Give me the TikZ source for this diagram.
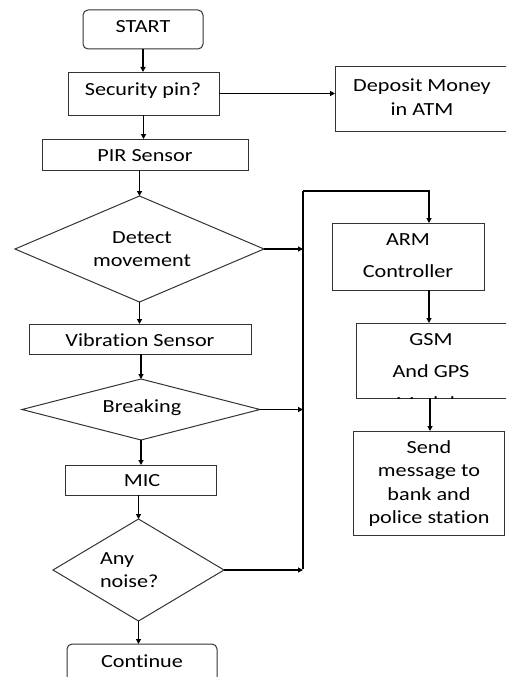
\documentclass[tikz,border=0pt]{standalone}
\usepackage{fontspec}
\setmainfont{Carlito}[FakeStretch=1.2,RawFeature={-liga;-clig;-dlig;-calt;-rlig}]
\usetikzlibrary{shapes.geometric,arrows.meta}
\begin{document}
\begin{tikzpicture}[x=1pt,y=-1pt,
  every node/.style={inner sep=0pt,outer sep=0pt},
  box/.style={draw=black!80,line width=1pt,rectangle},
  rbox/.style={box,rounded corners=5pt},
  dia/.style={draw=black!80,line width=1pt,diamond,shape aspect=1},
  txt/.style={align=center,font=\fontsize{18.5}{23.5}\selectfont},
  wtxt/.style={align=center,font=\fontsize{18.5}{32}\selectfont},
  arr/.style={line width=1.2pt,-{Triangle[width=5pt,length=5pt]}},
  ln/.style={line width=1.2pt}]
\useasboundingbox (0,0) rectangle (506,677);
\clip (0,0) rectangle (506,677);
% boxes
\node[rbox,minimum width=120pt,minimum height=39pt] (start) at (143,29.5) {};
\node[txt] at (143,27) {START};
\node[box,minimum width=151pt,minimum height=43pt] (pin) at (143.5,93.5) {};
\node[txt] at (143,91) {Security pin?};
\node[box,minimum width=175pt,minimum height=64pt] (dep) at (422.5,99) {};
\node[txt] at (422,97) {Deposit Money\\in ATM};
\node[box,minimum width=206pt,minimum height=31pt] (pir) at (145,154.5) {};
\node[txt] at (145,156) {PIR Sensor};
\node[dia,minimum width=249pt,minimum height=106pt] (detect) at (139.5,249) {};
\node[txt] at (142,249) {Detect\\movement};
\node[box,minimum width=222pt,minimum height=30pt] (vib) at (140,339) {};
\node[txt] at (140,340) {Vibrat\kern0pt ion Sensor};
\node[dia,minimum width=238pt,minimum height=61pt] (brk) at (141,409.5) {};
\node[txt] at (142,408) {Breaking};
\node[box,minimum width=151pt,minimum height=30pt] (mic) at (140.5,480) {};
\node[txt] at (142,481) {MIC};
\node[dia,minimum width=171pt,minimum height=102pt] (noise) at (138.5,570) {};
\node[txt,align=left,anchor=west] at (100,570) {Any\\noise?};
\node[rbox,minimum width=150pt,minimum height=50pt] (cont) at (142,669) {};
\node[txt] at (142,661) {Continue};
\node[box,minimum width=152pt,minimum height=67pt] (arm) at (408,256.5) {};
\node[wtxt] at (408,256) {ARM\\Controller};
\node[box,minimum width=160pt,minimum height=75pt] (gsm) at (436,360.5) {};
\begin{scope}
\clip (gsm.north west) rectangle (gsm.south east);
\node[wtxt] at (431,372) {GSM\\And GPS\\Module};
\end{scope}
\node[box,minimum width=151pt,minimum height=104pt] (send) at (428.5,483) {};
\node[txt] at (429,483.5) {Send\\message to\\bank and\\police stat\kern0pt ion};
% bus
\coordinate (bustop) at (303,191);
\coordinate (busbot) at (303,569);
% connectors
\draw[arr] (start.south) -- (start.south |- pin.north);
\draw[arr] (pin.east) -- (pin.east -| dep.west);
\draw[arr] (pin.south) -- (pin.south |- pir.north);
\draw[arr] (pir.south -| detect.north) -- (detect.north);
\draw[arr] (detect.south) -- (detect.south |- vib.north);
\draw[arr] (vib.south -| brk.north) -- (brk.north);
\draw[arr] (brk.south) -- (brk.south |- mic.north);
\draw[arr] (mic.south -| noise.north) -- (noise.north);
\draw[arr] (noise.south) -- (noise.south |- cont.north);
\draw[arr] (detect.east) -- (detect.east -| bustop);
\draw[arr] (brk.east) -- (brk.east -| bustop);
\draw[arr] (noise.east) -- (noise.east -| bustop);
\draw[ln] (busbot) -- (bustop);
\draw[arr] (bustop) -| (arm.north -| 429,0);
\draw[arr] (arm.south -| 429,0) -- (gsm.north -| 429,0);
\draw[arr] (gsm.south -| 430,0) -- (send.north -| 430,0);
\end{tikzpicture}
\end{document}
